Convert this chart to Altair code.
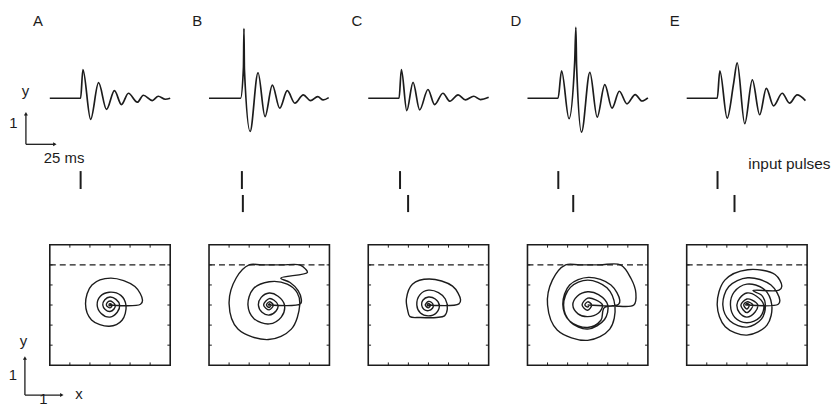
import altair as alt
import pandas as pd

# ---------------- data ----------------
panels = ["A", "B", "C", "D", "E"]

# response waveforms y(t): time in ms from the left edge of each panel, y in model units
wave_A_t = [0, 25.6, 27.5, 33.9, 40.5, 47.1, 53.7, 59.5, 65.3, 72.7, 77.7, 85.1, 90.1, 95.9, 100]
wave_A_y = [0, 0, 0.72, -0.53, 0.39, -0.28, 0.19, -0.16, 0.125, -0.10, 0.075, -0.058, 0.05, -0.025, 0]

wave_B_t = [0, 26.2, 28.6, 29.0, 29.4, 34.1, 40.7, 46.5, 52.6, 58.7, 65.0, 71.3, 78.3, 84.3, 90.3, 94.8, 99.4]
wave_B_y = [0, 0, 0.78, 1.75, 0.72, -0.835, 0.64, -0.46, 0.33, -0.25, 0.19, -0.125, 0.083, -0.06, 0.04, -0.043, 0.015]

wave_C_t = [0, 25.6, 27.5, 32.0, 37.2, 42.7, 49.6, 55.1, 62.0, 67.8, 74.6, 80.7, 87.6, 93.1, 100]
wave_C_y = [0, 0, 0.72, -0.31, 0.40, -0.29, 0.22, -0.16, 0.125, -0.075, 0.085, -0.04, 0.05, -0.033, 0.025]

wave_D_t = [0, 25.4, 28.3, 34.5, 39.2, 40.2, 40.8, 44.9, 51.8, 57.9, 64.2, 70.2, 76.3, 82.6, 89.5, 95.0, 100]
wave_D_y = [0, 0, 0.69, -0.515, 0.90, 1.78, 0.80, -0.85, 0.65, -0.475, 0.34, -0.25, 0.175, -0.14, 0.093, -0.07, 0.01]

wave_E_t = [0, 25.4, 27.5, 33.6, 39.0, 41.9, 48.2, 54.5, 60.6, 66.1, 72.1, 79.3, 85.4, 91.7, 98.6]
wave_E_y = [0, 0, 0.69, -0.50, 0.38, 0.89, -0.64, 0.46, -0.415, 0.25, -0.19, 0.125, -0.125, 0.085, -0.058]

# input pulse times (ms); second pulse absent in A
pulse1_t = {"A": 25.6, "B": 27.3, "C": 26.4, "D": 25.6, "E": 25.6}
pulse2_t = {"B": 28.1, "C": 33.1, "D": 38.0, "E": 39.7}

# phase-plane trajectories (x, y)
path_A = [(0, 0), (0.76, 0.02), (0.81, 0.12), (0.62, 0.46), (0.02, 0.67), (-0.45, 0.5), (-0.61, 0.03),
          (-0.46, -0.37), (-0.02, -0.53), (0.3, -0.38), (0.4, -0.02), (0.27, 0.24), (-0.02, 0.32),
          (-0.24, 0.22), (-0.32, 0), (-0.22, -0.21), (0, -0.3), (0.18, -0.18), (0.24, 0), (0.15, 0.14),
          (0, 0.2), (-0.13, 0.13), (-0.18, 0), (-0.12, -0.11), (0, -0.16), (0.1, -0.1), (0.13, 0),
          (0.07, 0.07), (0, 0.1), (-0.07, 0.06), (-0.09, 0), (-0.05, -0.05), (0, -0.07), (0.04, -0.04),
          (0.05, 0), (0.02, 0.03), (0, 0.035), (-0.025, 0), (0, -0.02), (0.01, 0)]

path_B = [(0, 0), (0.78, 0.03), (0.8, 0.14), (0.72, 0.36), (0.52, 0.56), (0.29, 0.67),
          (0.95, 0.81), (0.9, 0.9), (0.76, 1.0), (0.3, 1.0), (-0.2, 1.0), (-0.5, 1.0),
          (-0.82, 0.68), (-1.0, 0.03), (-0.78, -0.6), (-0.02, -0.86), (0.55, -0.6), (0.76, 0.0),
          (0.7, 0.3), (0.45, 0.52), (0.0, 0.58), (-0.4, 0.4), (-0.53, 0), (-0.38, -0.34), (0, -0.47),
          (0.3, -0.3), (0.38, 0), (0.22, 0.22), (0, 0.3), (-0.2, 0.19), (-0.27, 0), (-0.18, -0.18),
          (0, -0.25), (0.17, -0.15), (0.22, 0), (0.12, 0.12), (0, 0.16), (-0.14, 0), (0, -0.12),
          (0.1, 0), (0, 0.08), (-0.07, 0), (0, -0.06), (0.04, 0), (0, 0.03), (-0.02, 0), (0, 0)]

path_C = [(0, 0), (0.76, 0.03), (0.8, 0.13), (0.6, 0.47), (0.02, 0.65), (-0.4, 0.52), (-0.55, 0.15),
          (-0.52, -0.12), (-0.46, -0.29), (-0.2, -0.31), (0.2, -0.31), (0.4, -0.27), (0.47, -0.1),
          (0.42, 0.15), (0.25, 0.31), (0, 0.37), (-0.21, 0.26), (-0.29, 0), (-0.2, -0.2), (0, -0.27),
          (0.2, -0.19), (0.27, 0), (0.17, 0.15), (0, 0.2), (-0.14, 0.12), (-0.17, 0), (-0.11, -0.11),
          (0, -0.14), (0.1, -0.08), (0.12, 0), (0.07, 0.07), (0, 0.09), (-0.08, 0), (0, -0.07),
          (0.05, 0), (0, 0.04), (-0.03, 0), (0, -0.02), (0.01, 0)]

path_D = [(0, 0), (0.77, 0.02), (0.8, 0.12), (0.58, 0.5), (0.02, 0.69), (-0.45, 0.5), (-0.62, 0.02),
          (-0.45, -0.4), (0, -0.56), (0.33, -0.38), (0.42, -0.06),
          (1.15, 0.0), (1.2, 0.3), (1.08, 0.66), (0.82, 1.0), (0.3, 1.0), (-0.2, 1.0), (-0.55, 1.0),
          (-0.88, 0.62), (-1.0, 0.0), (-0.76, -0.62), (0, -0.88), (0.55, -0.6), (0.68, -0.03),
          (0.48, 0.43), (0, 0.62), (-0.43, 0.44), (-0.6, 0), (-0.43, -0.42), (0, -0.6), (0.42, -0.36),
          (0.5, 0), (0.27, 0.26), (0, 0.33), (-0.26, 0.22), (-0.37, 0), (-0.24, -0.22), (0, -0.29),
          (0.27, -0.2), (0.37, 0.0), (0.2, 0.13), (0, 0.17), (-0.14, 0), (0, -0.13), (0.1, 0),
          (0, 0.08), (-0.07, 0), (0, -0.05), (0.03, 0), (0, 0)]

path_E = [(0, 0), (0.78, 0.02), (0.82, 0.12), (0.6, 0.5), (0.02, 0.68), (-0.45, 0.46), (-0.6, 0.0),
          (-0.42, -0.4), (0, -0.55), (0.36, -0.35), (0.46, 0.0), (0.37, 0.24), (0.15, 0.36),
          (0.8, 0.37), (0.87, 0.47), (0.7, 0.76), (0.02, 0.88), (-0.55, 0.62), (-0.74, 0.0),
          (-0.54, -0.54), (0, -0.75), (0.5, -0.5), (0.62, 0), (0.42, 0.4), (0, 0.52), (-0.32, 0.32),
          (-0.41, 0), (-0.3, -0.31), (0, -0.44), (0.33, -0.3), (0.42, 0), (0.24, 0.22), (0, 0.3),
          (-0.18, 0.17), (-0.25, 0), (-0.18, -0.2), (0, -0.3), (0.2, -0.18), (0.27, 0), (0.13, 0.12),
          (0, 0.15), (-0.15, 0), (0, -0.19), (0.15, 0), (0, 0.08), (-0.08, 0), (0, -0.1), (0.06, 0),
          (0, 0.04), (-0.03, 0), (0, 0)]

box_ticks = [-1.0, -0.5, 0.0, 0.5, 1.0]
threshold = 1.0

waves = {"A": (wave_A_t, wave_A_y), "B": (wave_B_t, wave_B_y), "C": (wave_C_t, wave_C_y),
         "D": (wave_D_t, wave_D_y), "E": (wave_E_t, wave_E_y)}
paths = {"A": path_A, "B": path_B, "C": path_C, "D": path_D, "E": path_E}

# ---------------- layout / style ----------------
FONT = "Liberation Sans"
INK = "#1c1c1c"
BOX = 121            # px of each panel
EXTRA = 41           # extra px at the left of column A for the scale bars
PX_MS = BOX / 100.0  # px per ms
PX_U = BOX / 3.0     # px per phase-plane unit
TOP_H = 214
Y_TOP = (2.2425 - TOP_H / 40.0, 2.2425)


def txt(s, x, y, xs, ys, align="left", size=15):
    return alt.Chart(pd.DataFrame({"s": [s]})).mark_text(
        align=align, baseline="alphabetic", font=FONT, fontSize=size, color=INK
    ).encode(x=alt.XDatum(x, scale=xs, axis=None), y=alt.YDatum(y, scale=ys, axis=None), text="s:N")


def seg(x1, x2, y1, y2, xs, ys, width=1.3, dash=None):
    kw = dict(color=INK, strokeWidth=width)
    if dash:
        kw["strokeDash"] = dash
    return alt.Chart(pd.DataFrame({"k": [0]})).mark_rule(**kw).encode(
        x=alt.XDatum(x1, scale=xs, axis=None), x2=alt.X2Datum(x2),
        y=alt.YDatum(y1, scale=ys, axis=None), y2=alt.Y2Datum(y2))


def head(x, y, shape, xs, ys):
    return alt.Chart(pd.DataFrame({"k": [0]})).mark_point(
        shape=shape, filled=True, size=16, color=INK, opacity=1
    ).encode(x=alt.XDatum(x, scale=xs, axis=None), y=alt.YDatum(y, scale=ys, axis=None))


def top_chart(key):
    first = key == "A"
    x0 = -EXTRA / PX_MS if first else 0
    w = BOX + EXTRA if first else BOX
    xs = alt.Scale(domain=[x0, 100], nice=False, zero=False)
    ys = alt.Scale(domain=list(Y_TOP), nice=False, zero=False)
    t, y = waves[key]
    layers = [
        alt.Chart(pd.DataFrame({"t": t, "y": y})).mark_line(
            interpolate="monotone", color=INK, strokeWidth=1.7
        ).encode(x=alt.X("t:Q", scale=xs, axis=None), y=alt.Y("y:Q", scale=ys, axis=None)),
        alt.Chart(pd.DataFrame({"t": [pulse1_t[key]]})).mark_rule(color=INK, strokeWidth=2).encode(
            x=alt.X("t:Q", scale=xs, axis=None),
            y=alt.YDatum(-1.83, scale=ys, axis=None), y2=alt.Y2Datum(-2.28)),
        txt(key, -14.0, 1.805, xs, ys),
    ]
    if key in pulse2_t:
        layers.append(alt.Chart(pd.DataFrame({"t": [pulse2_t[key]]})).mark_rule(color=INK, strokeWidth=2).encode(
            x=alt.X("t:Q", scale=xs, axis=None),
            y=alt.YDatum(-2.43, scale=ys, axis=None), y2=alt.Y2Datum(-2.86)))
    if first:
        layers += [
            seg(-19.83, -19.83, -0.40, -1.1575, xs, ys),
            seg(-19.83, 4.3, -1.1575, -1.1575, xs, ys),
            head(-19.83, -0.39, "triangle-up", xs, ys),
            head(4.2, -1.1575, "triangle-right", xs, ys),
            txt("y", -20.25, 0.05, xs, ys, align="center"),
            txt("1", -30.2, -0.7575, xs, ys, align="center"),
            txt("25 ms", -4.96, -1.6325, xs, ys),
        ]
    if key == "E":
        layers.append(txt("input pulses", 51.2, -1.79, xs, ys, size=15.5))
    return alt.layer(*layers).properties(width=w, height=TOP_H)


def phase_chart(key):
    first = key == "A"
    x0 = -1.5 - EXTRA / PX_U if first else -1.5
    w = BOX + EXTRA if first else BOX
    h = BOX + 40 if first else BOX
    y0 = 1.5 - h / PX_U
    xs = alt.Scale(domain=[x0, 1.5], nice=False, zero=False)
    ys = alt.Scale(domain=[y0, 1.5], nice=False, zero=False)
    p = paths[key]
    pdf = pd.DataFrame({"x": [a for a, b in p], "y": [b for a, b in p], "i": list(range(len(p)))})
    tdf = pd.DataFrame({"v": box_ticks})
    L = 0.07
    layers = [
        alt.Chart(pd.DataFrame({"k": [0]})).mark_rect(fillOpacity=0, stroke=INK, strokeWidth=1.6).encode(
            x=alt.XDatum(-1.5, scale=xs, axis=None), x2=alt.X2Datum(1.5),
            y=alt.YDatum(-1.5, scale=ys, axis=None), y2=alt.Y2Datum(1.5)),
        alt.Chart(tdf).mark_rule(color=INK, strokeWidth=1).encode(
            x=alt.X("v:Q", scale=xs, axis=None), y=alt.YDatum(-1.5, scale=ys, axis=None), y2=alt.Y2Datum(-1.5 + L)),
        alt.Chart(tdf).mark_rule(color=INK, strokeWidth=1).encode(
            x=alt.X("v:Q", scale=xs, axis=None), y=alt.YDatum(1.5, scale=ys, axis=None), y2=alt.Y2Datum(1.5 - L)),
        alt.Chart(tdf).mark_rule(color=INK, strokeWidth=1).encode(
            y=alt.Y("v:Q", scale=ys, axis=None), x=alt.XDatum(-1.5, scale=xs, axis=None), x2=alt.X2Datum(-1.5 + L)),
        alt.Chart(tdf).mark_rule(color=INK, strokeWidth=1).encode(
            y=alt.Y("v:Q", scale=ys, axis=None), x=alt.XDatum(1.5, scale=xs, axis=None), x2=alt.X2Datum(1.5 - L)),
        seg(-1.5, 1.5, threshold, threshold, xs, ys, width=1.4, dash=[6, 4]),
        alt.Chart(pdf).mark_line(interpolate="catmull-rom", color=INK, strokeWidth=1.4).encode(
            x=alt.X("x:Q", scale=xs, axis=None), y=alt.Y("y:Q", scale=ys, axis=None), order="i:Q"),
    ]
    if first:
        layers += [
            seg(-2.12, -2.12, -1.33, -2.244, xs, ys),
            seg(-2.12, -1.2, -2.244, -2.244, xs, ys),
            head(-2.12, -1.32, "triangle-up", xs, ys),
            head(-1.2, -2.244, "triangle-right", xs, ys),
            txt("y", -2.157, -1.03, xs, ys, align="center"),
            txt("1", -2.418, -1.872, xs, ys, align="center"),
            txt("x", -0.774, -2.343, xs, ys, align="center"),
            txt("1", -1.661, -2.47, xs, ys, align="center"),
        ]
    return alt.layer(*layers).properties(width=w, height=h)


top_row = alt.hconcat(*[top_chart(k) for k in panels], spacing=39, bounds="flush")
phase_row = alt.hconcat(*[phase_chart(k) for k in panels], spacing=39, bounds="flush")
chart = alt.vconcat(top_row, phase_row, spacing=22).properties(
    padding=0, background="white"
).configure_view(strokeWidth=0)

chart.save("out.html", embed_options={"renderer": "svg", "actions": False})
